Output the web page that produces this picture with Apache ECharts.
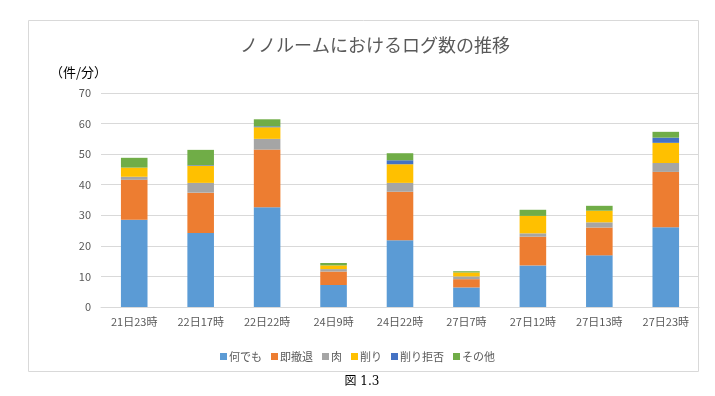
<!DOCTYPE html>
<html>
<head>
<meta charset="utf-8">
<script src="https://cdn.jsdelivr.net/npm/echarts@6/dist/echarts.min.js"></script>
<style>
  html, body { margin: 0; padding: 0; background: #fff; }
  #chart { width: 715px; height: 396px; }
</style>
</head>
<body>
<div id="chart"></div>
<script>
const categories = ['21日23時', '22日17時', '22日22時', '24日9時', '24日22時', '27日7時', '27日12時', '27日13時', '27日23時']

const nandemo = [28.5, 24.2, 32.6, 7.2, 21.8, 6.4, 13.6, 16.9, 26.1]
const sokuTettai = [13.1, 13.2, 18.9, 4.4, 15.9, 2.7, 9.4, 9.1, 18.1]
const niku = [1.0, 3.2, 3.5, 0.8, 2.9, 0.9, 1.1, 1.7, 2.9]
const kezuri = [3.0, 5.6, 3.8, 1.2, 6.1, 1.3, 5.7, 3.8, 6.6]
const kezuriKyohi = [0, 0.2, 0.3, 0, 1.3, 0, 0, 0, 1.7]
const sonota = [3.2, 5.0, 2.3, 0.8, 2.3, 0.4, 2.0, 1.6, 1.9]

const font = '"Noto Sans CJK JP", "Noto Sans", sans-serif'
const textColor = '#595959'

// 系列名と色
const seriesDefs = [
  { name: '何でも', data: nandemo, color: '#5B9BD5' },
  { name: '即撤退', data: sokuTettai, color: '#ED7D31' },
  { name: '肉', data: niku, color: '#A5A5A5' },
  { name: '削り', data: kezuri, color: '#FFC000' },
  { name: '削り拒否', data: kezuriKyohi, color: '#4472C4' },
  { name: 'その他', data: sonota, color: '#70AD47' },
]

const options = {
  animation: false,
  textStyle: { fontFamily: font },
  title: {
    text: 'ノノルームにおけるログ数の推移',
    left: 370,
    textAlign: 'center',
    top: 31,
    textStyle: { fontFamily: font, fontSize: 18, fontWeight: 'normal', color: textColor },
  },
  legend: {
    left: 'center',
    top: 346,
    icon: 'rect',
    itemWidth: 7,
    itemHeight: 7,
    itemGap: 9,
    textStyle: { fontFamily: font, fontSize: 11, color: textColor, padding: [0, 0, 0, -3] },
    data: seriesDefs.map(s => s.name),
  },
  grid: { left: 101, right: 16, top: 93, bottom: 89 },
  xAxis: {
    type: 'category',
    data: categories,
    axisLine: { lineStyle: { color: '#d9d9d9' } },
    axisTick: { show: false },
    axisLabel: { color: textColor, fontSize: 11, margin: 9, fontFamily: font },
  },
  yAxis: {
    type: 'value',
    min: 0,
    max: 70,
    interval: 10,
    name: '（件/分）',
    nameLocation: 'end',
    nameGap: 14,
    nameTextStyle: { align: 'right', fontSize: 13, color: '#000', fontFamily: font, padding: [0, -6, 0, 0] },
    axisLine: { show: false },
    axisTick: { show: false },
    axisLabel: { color: textColor, fontSize: 11, margin: 10, fontFamily: font },
    splitLine: { lineStyle: { color: '#d9d9d9' } },
  },
  series: seriesDefs.map(s => ({
    name: s.name,
    type: 'bar',
    stack: 'total',
    barWidth: '40%',
    data: s.data,
    itemStyle: { color: s.color },
  })),
  graphic: [
    {
      type: 'rect',
      shape: { x: 28.5, y: 20.5, width: 670, height: 351 },
      style: { fill: null, stroke: '#d9d9d9', lineWidth: 1 },
      silent: true,
      z: -1,
    },
    {
      type: 'text',
      x: 362,
      y: 382,
      style: {
        text: '図 1.3',
        font: '12px "DejaVu Serif", "Noto Sans CJK JP", serif',
        fill: '#000',
        textAlign: 'center',
        textVerticalAlign: 'middle',
      },
    },
  ],
}

const chart = echarts.init(document.getElementById('chart'))
chart.setOption(options)
window.onresize = function () {
  chart.resize()
}
</script>
</body>
</html>
